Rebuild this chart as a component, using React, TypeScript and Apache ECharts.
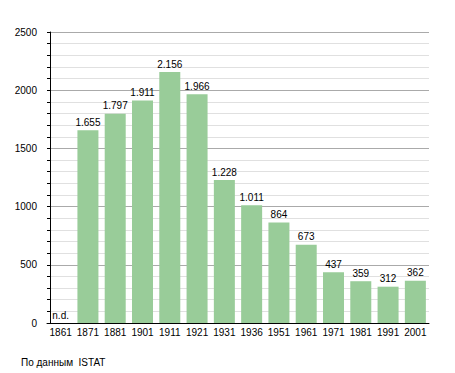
import React, { useEffect, useRef } from "react";
import * as echarts from "echarts";

const years = ["1861", "1871", "1881", "1901", "1911", "1921", "1931", "1936", "1951", "1961", "1971", "1981", "1991", "2001"];
const population: (number | null)[] = [null, 1655, 1797, 1911, 2156, 1966, 1228, 1011, 864, 673, 437, 359, 312, 362];
const yTicks = { min: 0, max: 2500, interval: 500 };
const sourceNote = "По данным  ISTAT";

const FONT = "'Liberation Sans', Arial, sans-serif";

function fmt(v: number): string {
  return String(v).replace(/\B(?=(\d{3})+(?!\d))/g, ".");
}

export default function App() {
  const ref = useRef<HTMLDivElement>(null);
  useEffect(() => {
    if (!ref.current) return;
    const chart = echarts.init(ref.current, undefined, { renderer: "svg" });
    chart.setOption({
      animation: false,
      textStyle: { fontFamily: FONT },
      title: {
        text: sourceNote,
        left: 16,
        top: 352,
        textStyle: { fontFamily: FONT, fontSize: 10, fontWeight: "normal", color: "#000" },
      },
      grid: { left: 47, right: 26, top: 32, bottom: 50 },
      xAxis: {
        type: "category",
        data: years,
        axisTick: { show: false },
        axisLine: { lineStyle: { color: "#000", width: 1 } },
        axisLabel: { color: "#000", fontSize: 10, margin: 4, interval: 0, fontFamily: FONT },
      },
      yAxis: {
        type: "value",
        min: yTicks.min,
        max: yTicks.max,
        interval: yTicks.interval,
        offset: -3,
        axisLine: { show: true, lineStyle: { color: "#000", width: 1 } },
        axisTick: { show: true, length: 3, lineStyle: { color: "#000" } },
        minorTick: { show: true, splitNumber: 5, length: 3, lineStyle: { color: "#000" } },
        splitLine: { show: true, lineStyle: { color: "#aaaaaa", width: 1 } },
        minorSplitLine: { show: true, lineStyle: { color: "#e0e0e0", width: 1 } },
        axisLabel: {
          color: "#000",
          fontSize: 10,
          margin: 13,
          fontFamily: FONT,
          formatter: (v: number) => String(v),
        },
      },
      series: [
        {
          type: "bar",
          data: population.map((v) => (v === null ? 0 : v)),
          barWidth: 21,
          itemStyle: { color: "#99cc99" },
          label: {
            show: true,
            position: "top",
            distance: 3,
            color: "#000",
            fontSize: 10,
            fontFamily: FONT,
            formatter: (p: any) => (population[p.dataIndex] === null ? "n.d." : fmt(p.value)),
          },
        },
      ],
    });
    return () => chart.dispose();
  }, []);
  return <div ref={ref} style={{ position: "fixed", left: 0, top: 0, width: 455, height: 373, background: "#fff" }} />;
}
